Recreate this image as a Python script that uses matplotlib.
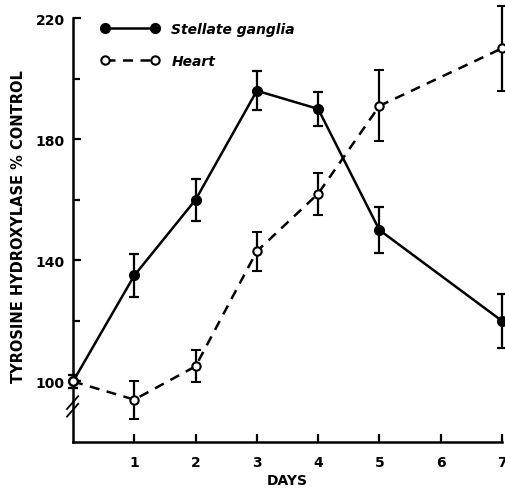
#!/usr/bin/env python3
"""Tyrosine hydroxylase (% control) in stellate ganglia and heart over days."""

import matplotlib

matplotlib.use("Agg")
import matplotlib.pyplot as plt
from matplotlib.lines import Line2D

DAYS_GANGLIA = [0, 1, 2, 3, 4, 5, 7]
GANGLIA = [100, 135, 160, 196, 190, 150, 120]
GANGLIA_ERR = [2, 7, 7, 6.5, 5.5, 7.5, 9]

DAYS_HEART = [0, 1, 2, 3, 4, 5, 7]
HEART = [100, 94, 105, 143, 162, 191, 210]
HEART_ERR = [2, 6.3, 5.3, 6.5, 7, 11.7, 14]

X_TICKS = [1, 2, 3, 4, 5, 6, 7]
Y_MAJOR = [100, 140, 180, 220]
Y_MINOR = [120, 160, 200]

FS_TICK = 10
FS_LABEL = 10.5
LW = 1.8

plt.rcParams["font.family"] = ["DejaVu Sans"]
plt.rcParams["font.weight"] = "bold"

fig = plt.figure(figsize=(5.05, 4.89), dpi=100)
ax = fig.add_axes([0.1446, 0.094, 0.994 - 0.1446, 0.961 - 0.094])

ax.errorbar(DAYS_GANGLIA, GANGLIA, yerr=GANGLIA_ERR, color="black", lw=LW,
            marker="o", ms=7, mfc="black", mec="black", capsize=3.5,
            elinewidth=1.6, capthick=1.6, clip_on=False, zorder=3)
ax.errorbar(DAYS_HEART, HEART, yerr=HEART_ERR, color="black", lw=LW,
            ls=(0, (4, 3)), marker="o", ms=6, mfc="white", mec="black",
            mew=1.5, capsize=3.5, elinewidth=1.6, capthick=1.6,
            clip_on=False, zorder=3)

ax.set_xlim(0, 7)
ax.set_ylim(80, 220)
ax.spines["top"].set_visible(False)
ax.spines["right"].set_visible(False)
for side in ("left", "bottom"):
    ax.spines[side].set_linewidth(1.8)

ax.set_xticks(X_TICKS)
ax.set_yticks(Y_MAJOR)
ax.set_yticks(Y_MINOR, minor=True)
ax.tick_params(axis="x", direction="in", length=6, width=1.6,
               labelsize=FS_TICK, pad=9)
ax.tick_params(axis="y", which="major", direction="in", length=6, width=1.6,
               labelsize=FS_TICK, pad=6)
ax.tick_params(axis="y", which="minor", direction="in", length=5, width=1.6)
for lab in ax.get_xticklabels() + ax.get_yticklabels():
    lab.set_fontweight("bold")

ax.set_xlabel("DAYS", fontsize=FS_TICK, fontweight="bold", labelpad=3)
ax.set_ylabel("TYROSINE HYDROXYLASE % CONTROL", fontsize=FS_LABEL,
              fontweight="bold", labelpad=7, y=0.51)

# axis break marks
for dy in (0.0, 0.018):
    ax.plot([-0.014, 0.012], [0.06 + dy, 0.09 + dy], transform=ax.transAxes,
            color="black", lw=1.3, clip_on=False)

handles = [
    Line2D([], [], color="black", lw=LW, marker="o", ms=7, mfc="black"),
    Line2D([], [], color="black", lw=LW, ls=(0, (4, 3)), marker="o", ms=6,
           mfc="white", mew=1.5),
]
ax.legend(handles, ["Stellate ganglia", "Heart"], loc="upper left",
          bbox_to_anchor=(0.035, 1.02), numpoints=2, frameon=False,
          handlelength=4.2, handletextpad=0.9, labelspacing=1.3,
          prop={"style": "italic", "weight": "bold", "size": 10})

fig.savefig("out.png", dpi=100)
